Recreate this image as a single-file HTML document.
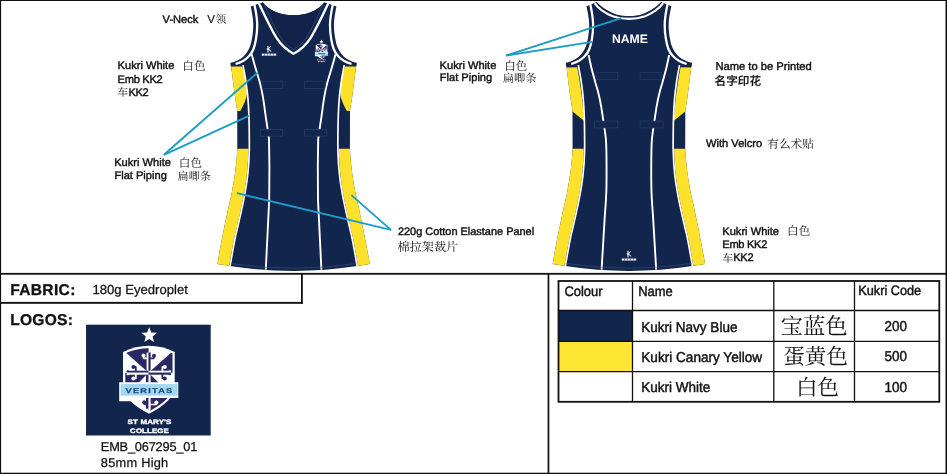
<!DOCTYPE html><html><head><meta charset="utf-8"><title>Spec</title><style>html,body{margin:0;padding:0;background:#fff;overflow:hidden}svg{display:block;will-change:transform}text{font-family:"Liberation Sans",sans-serif;text-rendering:geometricPrecision}text.cjk{font-family:"Liberation Serif","Noto Serif CJK SC",serif}text.cjks{font-family:"Liberation Sans","Noto Sans CJK SC",sans-serif}</style></head><body><svg width="947" height="474" viewBox="0 0 947 474"><rect x="0" y="0" width="947" height="474" fill="#fff"/><g transform="translate(0.00,0)"><path d="M297,15.2 L294.2,15.2 C290,15.2 286,14.8 282,13.9 C274,12.2 266.5,7.5 263,2.2 L250.8,6.4 C252.0,13 253.3,19 253.3,25 C253.3,30 252.7,35 252.0,38.4 C251.5,41 251.1,43 250.6,44.8 C249.5,48.8 246.6,53.6 243.5,56.5 C240,59.7 235,61.9 230.5,62.8 L230.6,65.6 L231.2,67 C232.4,76 233.5,86 234.6,93.8 C235.3,100 236.6,106 237.2,110.7 L237.3,149 C236.5,165 234,182 231.3,195 C228.4,207 221.5,240 217.4,263.9 L230.1,266 Q262,270.9 294.2,270.9 L297,270.9 Z" fill="#12254d"/><g transform="translate(587.20,0) scale(-1,1)"><path d="M297,15.2 L294.2,15.2 C290,15.2 286,14.8 282,13.9 C274,12.2 266.5,7.5 263,2.2 L250.8,6.4 C252.0,13 253.3,19 253.3,25 C253.3,30 252.7,35 252.0,38.4 C251.5,41 251.1,43 250.6,44.8 C249.5,48.8 246.6,53.6 243.5,56.5 C240,59.7 235,61.9 230.5,62.8 L230.6,65.6 L231.2,67 C232.4,76 233.5,86 234.6,93.8 C235.3,100 236.6,106 237.2,110.7 L237.3,149 C236.5,165 234,182 231.3,195 C228.4,207 221.5,240 217.4,263.9 L230.1,266 Q262,270.9 294.2,270.9 L297,270.9 Z" fill="#12254d"/></g><path d="M237.3,148.8 L248.4,148.8 C248.2,158 247.7,167 246.8,175 C245.4,188 242.5,202 239.7,214.4 C237.9,222 236.4,229 234.85,235 C232.6,246 230.7,257 229.1,265.7 L217.4,263.9 C221.5,240 228.4,207 231.3,195 C234,182 236.5,165 237.3,148.8 Z" fill="#fde12a"/><g transform="translate(587.20,0) scale(-1,1)"><path d="M237.3,148.8 L248.4,148.8 C248.2,158 247.7,167 246.8,175 C245.4,188 242.5,202 239.7,214.4 C237.9,222 236.4,229 234.85,235 C232.6,246 230.7,257 229.1,265.7 L217.4,263.9 C221.5,240 228.4,207 231.3,195 C234,182 236.5,165 237.3,148.8 Z" fill="#fde12a"/></g><path d="M231.2,66.6 L242.2,66.4 C244.5,74 246.6,82 247,88.7 C247.2,93 246.8,97 245.3,100.5 C244,104 242,108 240.3,110.9 L237.2,111 C236.6,106 235.3,100 234.6,93.8 C233.5,86 232.4,76 231.2,66.6 Z" fill="#fde12a"/><g transform="translate(587.20,0) scale(-1,1)"><path d="M231.2,66.6 L242.2,66.4 C244.5,74 246.6,82 247,88.7 C247.2,93 246.8,97 245.3,100.5 C244,104 242,108 240.3,110.9 L237.2,111 C236.6,106 235.3,100 234.6,93.8 C233.5,86 232.4,76 231.2,66.6 Z" fill="#fde12a"/></g><path d="M243.0,65.2 C244.4,72 246.4,84 247.3,92 C248.2,100 248.8,110 249.1,122 C249.3,132 249.4,142 249.3,150 C249.1,160 248.5,168 247.7,175 C246.3,188 243.4,202 240.6,214.4 C238.8,222 237.3,229 235.75,235 C233.5,246 231.6,257 230.0,266.3" fill="none" stroke="#fff" stroke-width="1.7"/><g transform="translate(587.20,0) scale(-1,1)"><path d="M243.0,65.2 C244.4,72 246.4,84 247.3,92 C248.2,100 248.8,110 249.1,122 C249.3,132 249.4,142 249.3,150 C249.1,160 248.5,168 247.7,175 C246.3,188 243.4,202 240.6,214.4 C238.8,222 237.3,229 235.75,235 C233.5,246 231.6,257 230.0,266.3" fill="none" stroke="#fff" stroke-width="1.7"/></g><path d="M251.8,54.5 C253.6,62.5 257.4,74 259.7,82 C262.4,92 264,103 264.9,110.7 C266.4,122 268.4,133 269,139.4 L269.4,166 L269.2,200 L265.8,269.6" fill="none" stroke="#fff" stroke-width="1.9"/><g transform="translate(587.20,0) scale(-1,1)"><path d="M251.8,54.5 C253.6,62.5 257.4,74 259.7,82 C262.4,92 264,103 264.9,110.7 C266.4,122 268.4,133 269,139.4 L269.4,166 L269.2,200 L265.8,269.6" fill="none" stroke="#fff" stroke-width="1.9"/></g><path d="M254.5,5.0 C256,12 257.2,19 257.2,25 C257.2,30 256.7,35 256,39 C255.3,43 254.5,46.5 253.5,49 C252.2,52.4 250.6,54.6 248.7,56.5 C246.6,58.6 245,59.7 243.4,60.7 C241,62.1 239,62.9 236.6,63.6" fill="none" stroke="#fff" stroke-width="2.3" stroke-linecap="round"/><g transform="translate(587.20,0) scale(-1,1)"><path d="M254.5,5.0 C256,12 257.2,19 257.2,25 C257.2,30 256.7,35 256,39 C255.3,43 254.5,46.5 253.5,49 C252.2,52.4 250.6,54.6 248.7,56.5 C246.6,58.6 245,59.7 243.4,60.7 C241,62.1 239,62.9 236.6,63.6" fill="none" stroke="#fff" stroke-width="2.3" stroke-linecap="round"/></g><rect x="262.2" y="81.1" width="20.6" height="7.3" fill="#12254d" stroke="#2a3e69" stroke-width="0.7"/><g transform="translate(587.20,0) scale(-1,1)"><rect x="262.2" y="81.1" width="20.6" height="7.3" fill="#12254d" stroke="#2a3e69" stroke-width="0.7"/></g><rect x="260.5" y="129.3" width="22.1" height="6.8" fill="#12254d" stroke="#2a3e69" stroke-width="0.7"/><g transform="translate(587.20,0) scale(-1,1)"><rect x="260.5" y="129.3" width="22.1" height="6.8" fill="#12254d" stroke="#2a3e69" stroke-width="0.7"/></g><path d="M231,263.6 Q262,268.3 293.6,268.3 Q325,268.3 356.2,263.6" fill="none" stroke="#3a4f80" stroke-width="0.6"/><path d="M262.4,2.3 C266,7.5 274,12.2 282,13.9 C286,14.8 290,15.2 293.6,15.2 C297,15.2 301,14.8 305.2,13.9 C313,12.2 321,7.5 324.8,2.3 L310.8,37.7 L293.6,53 L276.4,37.7 Z" fill="#11234a"/><path d="M263.6,3 C268,13 274,27 280.8,37.7 C284.5,43 289,47 293.6,49.4 C298.2,47 302.7,43 306.4,37.7 C313.2,27 319.2,13 323.6,3" fill="none" stroke="#3b5081" stroke-width="0.7"/><path d="M258.8,3 C264,14 270,27 276.4,37.7 C281,45 287,50.3 293.6,53.7 C300.2,50.3 306.2,45 310.8,37.7 C317.2,27 323.2,14 328.4,3" fill="none" stroke="#fff" stroke-width="2.4" stroke-linejoin="miter"/></g><g transform="translate(335.30,0)"><path d="M297,16.2 L294.2,16.2 C289,16.2 283,15.4 278,13.2 C271,10.3 265,6 261.5,2.0 L251.2,6.2 C252.6,13 253.9,19 253.9,25 C253.9,30 253.29999999999998,35 252.6,38.4 C252.1,41 251.7,43 251.2,44.8 C250.1,48.8 247.01999999999998,53.6 243.8,56.5 C240,59.7 235,61.9 230.5,62.8 L230.6,65.6 L231.2,67 C232.4,76 233.5,86 234.6,93.8 C235.3,100 236.6,106 237.2,110.7 L237.3,149 C236.5,165 234,182 231.3,195 C228.4,207 221.5,240 217.4,263.9 L230.1,266 Q262,270.9 294.2,270.9 L297,270.9 Z" fill="#12254d"/><g transform="translate(587.20,0) scale(-1,1)"><path d="M297,16.2 L294.2,16.2 C289,16.2 283,15.4 278,13.2 C271,10.3 265,6 261.5,2.0 L251.2,6.2 C252.6,13 253.9,19 253.9,25 C253.9,30 253.29999999999998,35 252.6,38.4 C252.1,41 251.7,43 251.2,44.8 C250.1,48.8 247.01999999999998,53.6 243.8,56.5 C240,59.7 235,61.9 230.5,62.8 L230.6,65.6 L231.2,67 C232.4,76 233.5,86 234.6,93.8 C235.3,100 236.6,106 237.2,110.7 L237.3,149 C236.5,165 234,182 231.3,195 C228.4,207 221.5,240 217.4,263.9 L230.1,266 Q262,270.9 294.2,270.9 L297,270.9 Z" fill="#12254d"/></g><path d="M237.3,148.8 L248.4,148.8 C248.2,158 247.7,167 246.8,175 C245.4,188 242.5,202 239.7,214.4 C237.9,222 236.4,229 234.85,235 C232.6,246 230.7,257 229.1,265.7 L217.4,263.9 C221.5,240 228.4,207 231.3,195 C234,182 236.5,165 237.3,148.8 Z" fill="#fde12a"/><g transform="translate(587.20,0) scale(-1,1)"><path d="M237.3,148.8 L248.4,148.8 C248.2,158 247.7,167 246.8,175 C245.4,188 242.5,202 239.7,214.4 C237.9,222 236.4,229 234.85,235 C232.6,246 230.7,257 229.1,265.7 L217.4,263.9 C221.5,240 228.4,207 231.3,195 C234,182 236.5,165 237.3,148.8 Z" fill="#fde12a"/></g><path d="M231.3,67.4 L241.9,67.2 C243.6,76 245.5,88 246.6,97 C247.2,102 247.8,108 248.3,114 L249,121 L237.2,111.6 C236.6,106 235.3,100 234.6,93.8 C233.5,86 232.4,76 231.3,67.4 Z" fill="#fde12a"/><g transform="translate(587.20,0) scale(-1,1)"><path d="M231.3,67.4 L241.9,67.2 C243.6,76 245.5,88 246.6,97 C247.2,102 247.8,108 248.3,114 L249,121 L237.2,111.6 C236.6,106 235.3,100 234.6,93.8 C233.5,86 232.4,76 231.3,67.4 Z" fill="#fde12a"/></g><path d="M243.0,65.2 C244.4,72 246.4,84 247.3,92 C248.2,100 248.8,110 249.1,122 C249.3,132 249.4,142 249.3,150 C249.1,160 248.5,168 247.7,175 C246.3,188 243.4,202 240.6,214.4 C238.8,222 237.3,229 235.75,235 C233.5,246 231.6,257 230.0,266.3" fill="none" stroke="#fff" stroke-width="1.7"/><g transform="translate(587.20,0) scale(-1,1)"><path d="M243.0,65.2 C244.4,72 246.4,84 247.3,92 C248.2,100 248.8,110 249.1,122 C249.3,132 249.4,142 249.3,150 C249.1,160 248.5,168 247.7,175 C246.3,188 243.4,202 240.6,214.4 C238.8,222 237.3,229 235.75,235 C233.5,246 231.6,257 230.0,266.3" fill="none" stroke="#fff" stroke-width="1.7"/></g><path d="M253.3,55 C255,64 257.8,75 260.2,83 C263.5,93 266,106 267.3,115.7 C268.6,125 270,133 270.6,139.4 C271.3,148 271.3,170 271.2,184 C271.1,196 270.3,206 269.6,214.4 L266.3,269.6" fill="none" stroke="#fff" stroke-width="1.9"/><g transform="translate(587.20,0) scale(-1,1)"><path d="M253.3,55 C255,64 257.8,75 260.2,83 C263.5,93 266,106 267.3,115.7 C268.6,125 270,133 270.6,139.4 C271.3,148 271.3,170 271.2,184 C271.1,196 270.3,206 269.6,214.4 L266.3,269.6" fill="none" stroke="#fff" stroke-width="1.9"/></g><path d="M255.1,4.8 C256.6,12 257.8,19 257.8,25 C257.8,30 257.3,35 256.6,39 C255.9,43 255.1,46.5 254.1,49 C252.8,52.4 251.1,54.6 249.1,56.5 C247,58.6 245.3,59.7 243.7,60.7 C241.2,62.1 239.2,62.9 236.8,63.6" fill="none" stroke="#fff" stroke-width="2.3" stroke-linecap="round"/><g transform="translate(587.20,0) scale(-1,1)"><path d="M255.1,4.8 C256.6,12 257.8,19 257.8,25 C257.8,30 257.3,35 256.6,39 C255.9,43 255.1,46.5 254.1,49 C252.8,52.4 251.1,54.6 249.1,56.5 C247,58.6 245.3,59.7 243.7,60.7 C241.2,62.1 239.2,62.9 236.8,63.6" fill="none" stroke="#fff" stroke-width="2.3" stroke-linecap="round"/></g><rect x="261.6" y="72.7" width="20.9" height="6.8" fill="#12254d" stroke="#2a3e69" stroke-width="0.7"/><g transform="translate(587.20,0) scale(-1,1)"><rect x="261.6" y="72.7" width="20.9" height="6.8" fill="#12254d" stroke="#2a3e69" stroke-width="0.7"/></g><rect x="259.4" y="121.1" width="23.1" height="6.8" fill="#12254d" stroke="#2a3e69" stroke-width="0.7"/><g transform="translate(587.20,0) scale(-1,1)"><rect x="259.4" y="121.1" width="23.1" height="6.8" fill="#12254d" stroke="#2a3e69" stroke-width="0.7"/></g><path d="M231,263.6 Q262,268.3 293.6,268.3 Q325,268.3 356.2,263.6" fill="none" stroke="#3a4f80" stroke-width="0.6"/><path d="M259.4,3.2 C263,8.5 270,13.4 277.4,16.2 C283,18.2 289,18.8 293.6,18.8 C298,18.8 304,18.2 309.8,16.2 C317,13.4 324,8.5 327.8,3.2" fill="none" stroke="#fff" stroke-width="2.2"/></g><text x="629.9" y="43.3" font-size="12.2" font-weight="bold" fill="#fff" text-anchor="middle">NAME</text><g transform="translate(269.0,45.8) scale(1.0)" stroke="#fff" fill="none" stroke-linecap="butt"><path d="M-1.0,0.1 L-1.0,6.8" stroke-width="1.05"/><path d="M-0.9,2.9 L1.7,0.7 M-2.3,3.2 L0.6,3.2 M-0.7,3.3 L2.2,5.7" stroke-width="0.95"/><rect x="-7.2" y="7.8" width="14.4" height="2.1" fill="#eef1f8" stroke="none"/><path d="M-4.5,7.8 v2.1 M-1.6,7.8 v2.1 M1.4,7.8 v2.1 M4.4,7.8 v2.1" stroke="#12254d" stroke-width="0.5"/></g><g transform="translate(629.0,250.7) scale(1.0)" stroke="#fff" fill="none" stroke-linecap="butt"><path d="M-1.0,0.1 L-1.0,6.8" stroke-width="1.05"/><path d="M-0.9,2.9 L1.7,0.7 M-2.3,3.2 L0.6,3.2 M-0.7,3.3 L2.2,5.7" stroke-width="0.95"/><rect x="-7.2" y="7.8" width="14.4" height="2.1" fill="#eef1f8" stroke="none"/><path d="M-4.5,7.8 v2.1 M-1.6,7.8 v2.1 M1.4,7.8 v2.1 M4.4,7.8 v2.1" stroke="#12254d" stroke-width="0.5"/></g><line x1="163.9" y1="154.8" x2="257.6" y2="72.6" stroke="#1b9dc6" stroke-width="1.9"/><line x1="163.9" y1="154.8" x2="248.8" y2="115.8" stroke="#1b9dc6" stroke-width="1.9"/><line x1="390.9" y1="229.9" x2="351.4" y2="195.1" stroke="#1b9dc6" stroke-width="1.9"/><line x1="390.9" y1="229.9" x2="236.9" y2="193.2" stroke="#1b9dc6" stroke-width="1.9"/><line x1="506.2" y1="55.5" x2="621.2" y2="18.2" stroke="#1b9dc6" stroke-width="1.9"/><line x1="506.2" y1="55.5" x2="592.0" y2="41.9" stroke="#1b9dc6" stroke-width="1.9"/><rect x="0" y="0" width="947" height="1.0" fill="#111"/><rect x="0" y="0" width="1.1" height="474" fill="#111"/><rect x="945.5" y="0" width="1.5" height="474" fill="#111"/><rect x="0" y="472.7" width="947" height="1.3" fill="#111"/><rect x="0" y="272.9" width="947" height="1.8" fill="#111"/><rect x="0" y="301.9" width="302.8" height="1.9" fill="#111"/><rect x="301.0" y="273" width="1.8" height="30.8" fill="#111"/><rect x="547.6" y="273" width="1.7" height="201" fill="#111"/><rect x="558.5" y="310.5" width="74.0" height="30.899999999999977" fill="#12254d"/><rect x="558.5" y="341.4" width="74.0" height="30.30000000000001" fill="#fee633"/><rect x="558.5" y="281.0" width="380.8" height="120.8" fill="none" stroke="#111" stroke-width="1.8"/><line x1="632.5" y1="281.0" x2="632.5" y2="401.8" stroke="#111" stroke-width="1.3"/><line x1="773.8" y1="281.0" x2="773.8" y2="401.8" stroke="#111" stroke-width="1.3"/><line x1="854.5" y1="281.0" x2="854.5" y2="401.8" stroke="#111" stroke-width="1.3"/><line x1="558.5" y1="310.5" x2="939.3" y2="310.5" stroke="#111" stroke-width="1.3"/><line x1="558.5" y1="341.4" x2="939.3" y2="341.4" stroke="#111" stroke-width="1.3"/><line x1="558.5" y1="371.7" x2="939.3" y2="371.7" stroke="#111" stroke-width="1.3"/><g transform="translate(564.4,296.0) scale(0.94,1)"><text x="0" y="0" font-size="13.8" font-weight="normal" fill="#111" text-anchor="start" stroke="#111" stroke-width="0.45">Colour</text></g><g transform="translate(638.2,296.0) scale(0.94,1)"><text x="0" y="0" font-size="13.8" font-weight="normal" fill="#111" text-anchor="start" stroke="#111" stroke-width="0.45">Name</text></g><g transform="translate(858.3,295.1) scale(0.94,1)"><text x="0" y="0" font-size="13.5" font-weight="normal" fill="#111" text-anchor="start" stroke="#111" stroke-width="0.45">Kukri Code</text></g><g transform="translate(641.3,331.8) scale(0.945,1)"><text x="0" y="0" font-size="14.3" font-weight="normal" fill="#111" text-anchor="start" stroke="#111" stroke-width="0.45">Kukri Navy Blue</text></g><g transform="translate(641.3,362.0) scale(0.95,1)"><text x="0" y="0" font-size="14.3" font-weight="normal" fill="#111" text-anchor="start" stroke="#111" stroke-width="0.45">Kukri Canary Yellow</text></g><g transform="translate(641.3,392.0) scale(0.945,1)"><text x="0" y="0" font-size="14.3" font-weight="normal" fill="#111" text-anchor="start" stroke="#111" stroke-width="0.45">Kukri White</text></g><g transform="translate(895.8,330.8) scale(0.95,1)"><text x="0" y="0" font-size="14.2" font-weight="normal" fill="#111" text-anchor="middle" stroke="#111" stroke-width="0.45">200</text></g><g transform="translate(895.8,361.2) scale(0.95,1)"><text x="0" y="0" font-size="14.2" font-weight="normal" fill="#111" text-anchor="middle" stroke="#111" stroke-width="0.45">500</text></g><g transform="translate(895.8,391.7) scale(0.95,1)"><text x="0" y="0" font-size="14.2" font-weight="normal" fill="#111" text-anchor="middle" stroke="#111" stroke-width="0.45">100</text></g><text class="cjk" x="780.6" y="333.5" font-size="22.4" fill="#111" text-anchor="start">宝蓝色</text><text class="cjk" x="783.2" y="364.0" font-size="21.6" fill="#111" text-anchor="start">蛋黄色</text><text class="cjk" x="796.0" y="394.6" font-size="21.6" fill="#111" text-anchor="start">白色</text><text x="10.2" y="294.6" font-size="15.6" font-weight="bold" fill="#111" text-anchor="start" stroke="#111" stroke-width="0.3" letter-spacing="0.32">FABRIC:</text><text x="92.5" y="294.1" font-size="13.1" font-weight="normal" fill="#111" text-anchor="start" stroke="#111" stroke-width="0.25">180g Eyedroplet</text><text x="10.2" y="324.9" font-size="15.6" font-weight="bold" fill="#111" text-anchor="start" stroke="#111" stroke-width="0.3" letter-spacing="0.25">LOGOS:</text><text x="162.6" y="22.5" font-size="11.1" font-weight="normal" fill="#111" text-anchor="start" stroke="#111" stroke-width="0.42">V-Neck</text><text x="207.2" y="22.5" font-size="11.7" font-weight="normal" fill="#111" text-anchor="start" stroke="#111" stroke-width="0.15">V</text><text class="cjk" x="215.6" y="22.8" font-size="10.8" fill="#111" text-anchor="start">领</text><text x="117.6" y="69.2" font-size="11.1" font-weight="normal" fill="#111" text-anchor="start" stroke="#111" stroke-width="0.42">Kukri White</text><text class="cjk" x="182.3" y="70.0" font-size="11.6" fill="#111" text-anchor="start">白色</text><text x="117.6" y="82.5" font-size="11.1" font-weight="normal" fill="#111" text-anchor="start" stroke="#111" stroke-width="0.42" letter-spacing="-0.3">Emb KK2</text><text class="cjk" x="117.3" y="96.2" font-size="11" fill="#111" text-anchor="start">车</text><text x="128.4" y="95.8" font-size="11.1" font-weight="normal" fill="#111" text-anchor="start" stroke="#111" stroke-width="0.42" letter-spacing="-0.3">KK2</text><text x="114.2" y="166.2" font-size="11.1" font-weight="normal" fill="#111" text-anchor="start" stroke="#111" stroke-width="0.42">Kukri White</text><text class="cjk" x="178.8" y="167.0" font-size="11.6" fill="#111" text-anchor="start">白色</text><text x="114.4" y="178.8" font-size="11.1" font-weight="normal" fill="#111" text-anchor="start" stroke="#111" stroke-width="0.42">Flat Piping</text><text class="cjk" x="177.6" y="179.7" font-size="11.1" fill="#111" text-anchor="start">扁唧条</text><text x="397.9" y="234.6" font-size="10.95" font-weight="normal" fill="#111" text-anchor="start" stroke="#111" stroke-width="0.42">220g Cotton Elastane Panel</text><text class="cjk" x="397.6" y="251.2" font-size="12.1" fill="#111" text-anchor="start">棉拉架裁片</text><text x="439.6" y="68.8" font-size="11.1" font-weight="normal" fill="#111" text-anchor="start" stroke="#111" stroke-width="0.42">Kukri White</text><text class="cjk" x="504.2" y="69.6" font-size="11.6" fill="#111" text-anchor="start">白色</text><text x="439.8" y="81.4" font-size="11.1" font-weight="normal" fill="#111" text-anchor="start" stroke="#111" stroke-width="0.42">Flat Piping</text><text class="cjk" x="502.8" y="82.3" font-size="11.2" fill="#111" text-anchor="start">扁唧条</text><text x="715.4" y="69.8" font-size="11.2" font-weight="normal" fill="#111" text-anchor="start" stroke="#111" stroke-width="0.42">Name to be Printed</text><text class="cjks" x="714.6" y="84.6" font-size="11.6" font-weight="500" fill="#111" text-anchor="start" stroke="#111" stroke-width="0.2">名字印花</text><text x="706.1" y="147.4" font-size="11.1" font-weight="normal" fill="#111" text-anchor="start" stroke="#111" stroke-width="0.42">With Velcro</text><text class="cjk" x="767.2" y="148.2" font-size="11.7" fill="#111" text-anchor="start">有么术贴</text><text x="722.3" y="234.5" font-size="11.1" font-weight="normal" fill="#111" text-anchor="start" stroke="#111" stroke-width="0.42">Kukri White</text><text class="cjk" x="787.1" y="235.2" font-size="11.6" fill="#111" text-anchor="start">白色</text><text x="722.3" y="247.5" font-size="11.1" font-weight="normal" fill="#111" text-anchor="start" stroke="#111" stroke-width="0.42" letter-spacing="-0.3">Emb KK2</text><text class="cjk" x="722.2" y="261.5" font-size="11" fill="#111" text-anchor="start">车</text><text x="733.2" y="261.1" font-size="11.1" font-weight="normal" fill="#111" text-anchor="start" stroke="#111" stroke-width="0.42" letter-spacing="-0.3">KK2</text><rect x="86" y="324.7" width="124.7" height="110.8" fill="#12254d"/><polygon points="149.20,327.20 151.32,332.49 157.00,332.87 152.62,336.51 154.02,342.03 149.20,339.00 144.38,342.03 145.78,336.51 141.40,332.87 147.08,332.49" fill="#fff"/><g transform="translate(0,0) scale(1.0)"><path d="M123,351.9 Q148.9,339.7 174.7,351.9 L174.7,388 C174.2,396 166,405 149,413.7 C132,405 123.6,396 123,388 Z" fill="#fff"/><clipPath id="fld1"><path d="M125.3,353.2 Q148.9,343.2 172.5,353.2 L172.5,387.8 C172,395 164.5,403.2 149,411.2 C133.5,403.2 125.8,395 125.3,387.8 Z"/></clipPath><g clip-path="url(#fld1)"><path d="M148.6,372.7 L148.6,330 L122.1,349.2 Z" fill="#2a2862"/><path d="M148.6,372.7 L175.1,349.2 L188.6,349.2 L188.6,372.7 Z" fill="#2a2862"/><path d="M148.6,372.7 L178.6,402.7 L178.6,422.7 L148.6,422.7 Z" fill="#2a2862"/><path d="M148.6,372.7 L118.6,402.7 L108.6,402.7 L108.6,372.7 Z" fill="#2a2862"/><rect x="146.6" y="352.5" width="2.0" height="20.19999999999999" fill="#fff"/><rect x="148.6" y="352.5" width="2.0" height="20.19999999999999" fill="#2a2862"/><rect x="146.0" y="372.7" width="2.6" height="36" fill="#2a2862"/><rect x="148.6" y="372.7" width="2.0" height="40" fill="#fff"/><rect x="127" y="370.7" width="21.599999999999994" height="2.0" fill="#2a2862"/><rect x="127" y="372.7" width="21.599999999999994" height="2.0" fill="#fff"/><rect x="148.6" y="370.7" width="22.0" height="2.0" fill="#fff"/><rect x="148.6" y="372.7" width="22.0" height="2.0" fill="#2a2862"/><circle cx="143.5" cy="355.6" r="2.0" fill="#fff"/><path d="M143.5,355.6 L143.5,358.4" stroke="#fff" stroke-width="1.9" fill="none"/><path d="M143.5,358.4 L147.6,358.4" stroke="#fff" stroke-width="1.8"/><circle cx="154.0" cy="355.8" r="2.0" fill="#2a2862"/><path d="M154.0,355.8 L154.0,358.4" stroke="#2a2862" stroke-width="1.9" fill="none"/><path d="M154.0,358.4 L149.6,358.4" stroke="#2a2862" stroke-width="1.8"/><circle cx="133.4" cy="366.9" r="2.0" fill="#2a2862"/><path d="M133.4,366.9 L135.9,366.9" stroke="#2a2862" stroke-width="1.9" fill="none"/><path d="M135.8,366.4 L135.8,371.7" stroke="#2a2862" stroke-width="1.8"/><circle cx="133.4" cy="378.4" r="2.0" fill="#fff"/><path d="M133.4,378.4 L135.9,378.4" stroke="#fff" stroke-width="1.9" fill="none"/><path d="M135.8,378.9 L135.8,373.7" stroke="#fff" stroke-width="1.8"/><circle cx="164.8" cy="366.9" r="2.0" fill="#fff"/><path d="M164.8,366.9 L162.3,366.9" stroke="#fff" stroke-width="1.9" fill="none"/><path d="M162.4,366.4 L162.4,371.7" stroke="#fff" stroke-width="1.8"/><circle cx="164.8" cy="378.4" r="2.0" fill="#2a2862"/><path d="M164.8,378.4 L162.3,378.4" stroke="#2a2862" stroke-width="1.9" fill="none"/><path d="M162.4,378.9 L162.4,373.7" stroke="#2a2862" stroke-width="1.8"/><circle cx="127.8" cy="371.5" r="1.3" fill="#2a2862"/><circle cx="127.8" cy="373.9" r="1.3" fill="#fff"/><circle cx="169.8" cy="371.5" r="1.3" fill="#fff"/><circle cx="169.8" cy="373.9" r="1.3" fill="#2a2862"/><circle cx="144.2" cy="402.2" r="2.0" fill="#2a2862"/><path d="M144.2,402.2 L144.2,404.6" stroke="#2a2862" stroke-width="1.9" fill="none"/><path d="M144.2,404.4 L147.6,404.4" stroke="#2a2862" stroke-width="1.5"/><circle cx="156.4" cy="402.4" r="2.0" fill="#fff"/><path d="M156.4,402.4 L156.4,404.6" stroke="#fff" stroke-width="1.9" fill="none"/><path d="M156.4,404.4 L149.6,404.4" stroke="#fff" stroke-width="1.5"/></g><path d="M119.2,382.3 H178.3 V398 H131.4 V401.2 H119.2 Z" fill="#fff"/><rect x="120.6" y="384.1" width="57.1" height="11.6" fill="#a6d7f1"/></g><g transform="translate(288.27,-33.5) scale(0.2234)"><path d="M123,351.9 Q148.9,339.7 174.7,351.9 L174.7,388 C174.2,396 166,405 149,413.7 C132,405 123.6,396 123,388 Z" fill="#fff"/><clipPath id="fld2"><path d="M125.3,353.2 Q148.9,343.2 172.5,353.2 L172.5,387.8 C172,395 164.5,403.2 149,411.2 C133.5,403.2 125.8,395 125.3,387.8 Z"/></clipPath><g clip-path="url(#fld2)"><path d="M148.6,372.7 L148.6,330 L122.1,349.2 Z" fill="#2a2862"/><path d="M148.6,372.7 L175.1,349.2 L188.6,349.2 L188.6,372.7 Z" fill="#2a2862"/><path d="M148.6,372.7 L178.6,402.7 L178.6,422.7 L148.6,422.7 Z" fill="#2a2862"/><path d="M148.6,372.7 L118.6,402.7 L108.6,402.7 L108.6,372.7 Z" fill="#2a2862"/><rect x="146.6" y="352.5" width="2.0" height="20.19999999999999" fill="#fff"/><rect x="148.6" y="352.5" width="2.0" height="20.19999999999999" fill="#2a2862"/><rect x="146.0" y="372.7" width="2.6" height="36" fill="#2a2862"/><rect x="148.6" y="372.7" width="2.0" height="40" fill="#fff"/><rect x="127" y="370.7" width="21.599999999999994" height="2.0" fill="#2a2862"/><rect x="127" y="372.7" width="21.599999999999994" height="2.0" fill="#fff"/><rect x="148.6" y="370.7" width="22.0" height="2.0" fill="#fff"/><rect x="148.6" y="372.7" width="22.0" height="2.0" fill="#2a2862"/><circle cx="143.5" cy="355.6" r="2.0" fill="#fff"/><path d="M143.5,355.6 L143.5,358.4" stroke="#fff" stroke-width="1.9" fill="none"/><path d="M143.5,358.4 L147.6,358.4" stroke="#fff" stroke-width="1.8"/><circle cx="154.0" cy="355.8" r="2.0" fill="#2a2862"/><path d="M154.0,355.8 L154.0,358.4" stroke="#2a2862" stroke-width="1.9" fill="none"/><path d="M154.0,358.4 L149.6,358.4" stroke="#2a2862" stroke-width="1.8"/><circle cx="133.4" cy="366.9" r="2.0" fill="#2a2862"/><path d="M133.4,366.9 L135.9,366.9" stroke="#2a2862" stroke-width="1.9" fill="none"/><path d="M135.8,366.4 L135.8,371.7" stroke="#2a2862" stroke-width="1.8"/><circle cx="133.4" cy="378.4" r="2.0" fill="#fff"/><path d="M133.4,378.4 L135.9,378.4" stroke="#fff" stroke-width="1.9" fill="none"/><path d="M135.8,378.9 L135.8,373.7" stroke="#fff" stroke-width="1.8"/><circle cx="164.8" cy="366.9" r="2.0" fill="#fff"/><path d="M164.8,366.9 L162.3,366.9" stroke="#fff" stroke-width="1.9" fill="none"/><path d="M162.4,366.4 L162.4,371.7" stroke="#fff" stroke-width="1.8"/><circle cx="164.8" cy="378.4" r="2.0" fill="#2a2862"/><path d="M164.8,378.4 L162.3,378.4" stroke="#2a2862" stroke-width="1.9" fill="none"/><path d="M162.4,378.9 L162.4,373.7" stroke="#2a2862" stroke-width="1.8"/><circle cx="127.8" cy="371.5" r="1.3" fill="#2a2862"/><circle cx="127.8" cy="373.9" r="1.3" fill="#fff"/><circle cx="169.8" cy="371.5" r="1.3" fill="#fff"/><circle cx="169.8" cy="373.9" r="1.3" fill="#2a2862"/><circle cx="144.2" cy="402.2" r="2.0" fill="#2a2862"/><path d="M144.2,402.2 L144.2,404.6" stroke="#2a2862" stroke-width="1.9" fill="none"/><path d="M144.2,404.4 L147.6,404.4" stroke="#2a2862" stroke-width="1.5"/><circle cx="156.4" cy="402.4" r="2.0" fill="#fff"/><path d="M156.4,402.4 L156.4,404.6" stroke="#fff" stroke-width="1.9" fill="none"/><path d="M156.4,404.4 L149.6,404.4" stroke="#fff" stroke-width="1.5"/></g><path d="M119.2,382.3 H178.3 V398 H131.4 V401.2 H119.2 Z" fill="#fff"/><rect x="120.6" y="384.1" width="57.1" height="11.6" fill="#a6d7f1"/></g><polygon points="321.40,39.60 321.96,40.93 323.40,41.05 322.30,41.99 322.63,43.40 321.40,42.65 320.17,43.40 320.50,41.99 319.40,41.05 320.84,40.93" fill="#fff"/><rect x="318.3" y="53.2" width="6.8" height="1.1" fill="#2f6aa8"/><path d="M317.2,59.8 h3.3 M321.6,59.8 h3.8 M318,61.6 h6.6" stroke="#fff" stroke-width="0.9" stroke-dasharray="1.0 0.45"/><g transform="translate(149.5,392.95) scale(1.3,1)"><text x="0" y="0" font-size="7.1" font-weight="bold" fill="#1f4c88" text-anchor="middle" stroke="#1f4c88" stroke-width="0.25" letter-spacing="0.95">VERITAS</text></g><g transform="translate(149.6,424.25) scale(1.24,1)"><text x="0" y="0" font-size="6.45" font-weight="bold" fill="#fff" text-anchor="middle" stroke="#fff" stroke-width="0.35" letter-spacing="0.1">ST MARY'S</text></g><g transform="translate(149.5,432.95) scale(1.22,1)"><text x="0" y="0" font-size="6.45" font-weight="bold" fill="#fff" text-anchor="middle" stroke="#fff" stroke-width="0.35" letter-spacing="0.1">COLLEGE</text></g><text x="100.8" y="451.0" font-size="12.8" font-weight="normal" fill="#111" text-anchor="start" stroke="#111" stroke-width="0.25" letter-spacing="-0.2">EMB_067295_01</text><text x="100.8" y="466.5" font-size="12.8" font-weight="normal" fill="#111" text-anchor="start" stroke="#111" stroke-width="0.25" letter-spacing="0.25">85mm High</text></svg></body></html>
